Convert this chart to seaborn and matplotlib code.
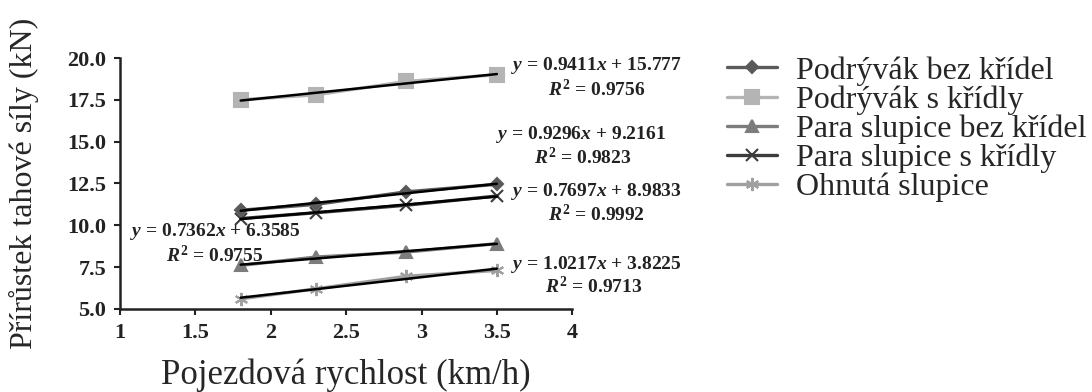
import numpy as np
import pandas as pd
import matplotlib
matplotlib.use("Agg")
import matplotlib.pyplot as plt
import seaborn as sns

sns.set_style("ticks")
plt.rcParams['font.family'] = ['Liberation Serif', 'DejaVu Serif']
plt.rcParams['mathtext.fontset'] = 'custom'
plt.rcParams['mathtext.rm'] = 'Liberation Serif:bold'
plt.rcParams['mathtext.it'] = 'Liberation Serif:italic:bold'
plt.rcParams['mathtext.bf'] = 'Liberation Serif:bold'

# data
speed = [1.8, 2.3, 2.9, 3.5]
series = ['Podrývák bez křídel', 'Podrývák s křídly', 'Para slupice bez křídel',
          'Para slupice s křídly', 'Ohnutá slupice']
bez_kridel = [10.9, 11.25, 12.0, 12.45]
s_kridly = [17.5, 17.8, 18.6, 19.0]
para_bez = [7.6, 8.1, 8.4, 8.9]
para_s = [10.4, 10.75, 11.2, 11.75]
ohnuta = [5.6, 6.2, 6.95, 7.3]
values = [bez_kridel, s_kridly, para_bez, para_s, ohnuta]

equations = ['$y$ = 0.9296$x$ + 9.2161', '$y$ = 0.9411$x$ + 15.777',
             '$y$ = 0.7362$x$ + 6.3585', '$y$ = 0.7697$x$ + 8.9833',
             '$y$ = 1.0217$x$ + 3.8225']
r2 = ['$R^2$ = 0.9823', '$R^2$ = 0.9756', '$R^2$ = 0.9755',
      '$R^2$ = 0.9992', '$R^2$ = 0.9713']
# label anchor (data coords)
eq_pos = [(4.06, 15.4), (4.16, 19.58), (1.63, 9.6), (4.16, 11.99), (4.16, 7.63)]
r2_pos = [(4.07, 14.08), (4.16, 18.09), (1.63, 8.22), (4.16, 10.62), (4.14, 6.31)]

colors = ['#5a5a5a', '#b4b4b4', '#7c7c7c', '#3c3c3c', '#a0a0a0']
markers = ['D', 's', '^', 'x', (6, 2, 0)]
msizes = [6.5, 10, 8.5, 8.5, 9.5]

fig = plt.figure(figsize=(10.92, 3.92), dpi=100)
ax = fig.add_axes([0.110, 0.212, 0.414, 0.640])

handles = []
for name, vals, c, m, ms in zip(series, values, colors, markers, msizes):
    df = pd.DataFrame({'x': speed, 'y': vals})
    sns.lineplot(data=df, x='x', y='y', ax=ax, color=c, marker=m, markersize=ms,
                 markeredgecolor=c, markeredgewidth=1.5, linewidth=2.4, label=name,
                 legend=False)
    sns.regplot(data=df, x='x', y='y', ax=ax, scatter=False, ci=None,
                color='black', line_kws={'linewidth': 1.8})
    handles.append(ax.lines[-2])

for eq, rr, (ex, ey), (rx, ry) in zip(equations, r2, eq_pos, r2_pos):
    ax.text(ex, ey, eq, ha='center', va='center', fontsize=14, color='#222222',
            fontweight='bold', clip_on=False)
    ax.text(rx, ry, rr, ha='center', va='center', fontsize=14, color='#222222',
            fontweight='bold', clip_on=False)

ax.set_xlim(1, 4)
ax.set_ylim(5, 20)
ax.set_xticks([1, 1.5, 2, 2.5, 3, 3.5, 4])
ax.set_xticklabels(['1', '1.5', '2', '2.5', '3', '3.5', '4'])
ax.set_yticks([5, 7.5, 10, 12.5, 15, 17.5, 20])
ax.set_yticklabels(['5.0', '7.5', '10.0', '12.5', '15.0', '17.5', '20.0'])
ax.tick_params(labelsize=16, width=1.5, length=4, colors='#222222', pad=6)
for lab in ax.get_xticklabels() + ax.get_yticklabels():
    lab.set_fontweight('bold')
sns.despine(ax=ax)
for side in ['left', 'bottom']:
    ax.spines[side].set_linewidth(1.8)
    ax.spines[side].set_color('#222222')
ax.set_xlabel('Pojezdová rychlost (km/h)', fontsize=25, labelpad=11)
ax.set_ylabel('Přírůstek tahové síly (kN)', fontsize=23, labelpad=20)

fig.legend(handles, series, loc='upper left', bbox_to_anchor=(0.6658, 0.857),
           frameon=False, fontsize=23, handlelength=1.55, labelspacing=-0.01,
           handletextpad=0.62, borderaxespad=0, borderpad=0)

fig.savefig('out.png', dpi=100)
